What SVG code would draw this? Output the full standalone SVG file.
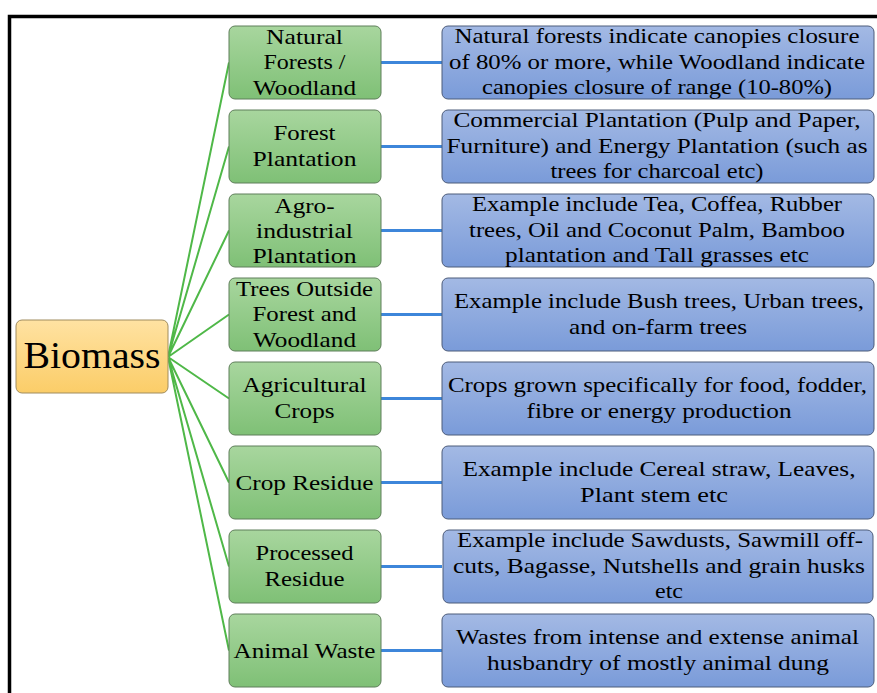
<svg xmlns="http://www.w3.org/2000/svg" width="877" height="693" viewBox="0 0 877 693">
<defs>
<linearGradient id="gG" x1="0" y1="0" x2="0" y2="1"><stop offset="0" stop-color="#a8d69e"/><stop offset="1" stop-color="#7fc076"/></linearGradient>
<linearGradient id="gB" x1="0" y1="0" x2="0" y2="1"><stop offset="0" stop-color="#a3b9e4"/><stop offset="1" stop-color="#7a9bd9"/></linearGradient>
<linearGradient id="gY" x1="0" y1="0" x2="0" y2="1"><stop offset="0" stop-color="#ffe2a2"/><stop offset="1" stop-color="#fbcd68"/></linearGradient>
<style>
.g{fill:url(#gG);stroke:#5f7f5a;stroke-width:1}
.b{fill:url(#gB);stroke:#4d5c7a;stroke-width:1}
.y{fill:url(#gY);stroke:#a08c5e;stroke-width:1}
text{font-size:21px;fill:#000;text-anchor:middle}
.big{font-size:37px}
.gl{stroke:#4fb848;stroke-width:2;fill:none}
.bl{stroke:#3d86da;stroke-width:3;fill:none}
</style>
</defs>
<rect width="877" height="693" fill="#fff"/>
<path d="M9.5 700 V16.5 H880" fill="none" stroke="#000" stroke-width="3.5"/>
<g id="connectors">
<path class="gl" d="M168 357 L229 62.5 M168 357 L229 146.5 M168 357 L229 230.5 M168 357 L229 314.5 M168 357 L229 398.5 M168 357 L229 482.5 M168 357 L229 566.5 M168 357 L229 650.5"/>
<path class="bl" d="M381 62.5 H442 M381 146.5 H442 M381 230.5 H442 M381 314.5 H442 M381 398.5 H442 M381 482.5 H442 M381 566.5 H442 M381 650.5 H442"/>
</g>
<g font-family="Liberation Serif, Times New Roman, serif">
<g id="biomass">
<rect class="y" x="16" y="320" width="152" height="73" rx="6"/>
<text class="big" x="92" y="368" textLength="137" lengthAdjust="spacingAndGlyphs">Biomass</text>
</g>
<g id="n1">
<rect class="g" x="229" y="26" width="152" height="73" rx="6"/>
<text x="304.5" y="43.5" textLength="77" lengthAdjust="spacingAndGlyphs">Natural</text>
<text x="304.5" y="69" textLength="82" lengthAdjust="spacingAndGlyphs">Forests /</text>
<text x="304.5" y="94.5" textLength="103" lengthAdjust="spacingAndGlyphs">Woodland</text>
</g>
<g id="n2">
<rect class="g" x="229" y="110" width="152" height="73" rx="6"/>
<text x="304.5" y="140" textLength="62" lengthAdjust="spacingAndGlyphs">Forest</text>
<text x="304.5" y="166" textLength="104" lengthAdjust="spacingAndGlyphs">Plantation</text>
</g>
<g id="n3">
<rect class="g" x="229" y="194" width="152" height="73" rx="6"/>
<text x="304.5" y="213" textLength="60" lengthAdjust="spacingAndGlyphs">Agro-</text>
<text x="304.5" y="238" textLength="97" lengthAdjust="spacingAndGlyphs">industrial</text>
<text x="304.5" y="263" textLength="104" lengthAdjust="spacingAndGlyphs">Plantation</text>
</g>
<g id="n4">
<rect class="g" x="229" y="278" width="152" height="73" rx="6"/>
<text x="304.5" y="295.5" textLength="137" lengthAdjust="spacingAndGlyphs">Trees Outside</text>
<text x="304.5" y="321" textLength="104" lengthAdjust="spacingAndGlyphs">Forest and</text>
<text x="304.5" y="346.5" textLength="103" lengthAdjust="spacingAndGlyphs">Woodland</text>
</g>
<g id="n5">
<rect class="g" x="229" y="362" width="152" height="73" rx="6"/>
<text x="304.5" y="392" textLength="124" lengthAdjust="spacingAndGlyphs">Agricultural</text>
<text x="304.5" y="418" textLength="60" lengthAdjust="spacingAndGlyphs">Crops</text>
</g>
<g id="n6">
<rect class="g" x="229" y="446" width="152" height="73" rx="6"/>
<text x="304.5" y="490" textLength="138" lengthAdjust="spacingAndGlyphs">Crop Residue</text>
</g>
<g id="n7">
<rect class="g" x="229" y="530" width="152" height="73" rx="6"/>
<text x="304.5" y="560" textLength="98" lengthAdjust="spacingAndGlyphs">Processed</text>
<text x="304.5" y="586" textLength="80" lengthAdjust="spacingAndGlyphs">Residue</text>
</g>
<g id="n8">
<rect class="g" x="229" y="614" width="152" height="73" rx="6"/>
<text x="304.5" y="658" textLength="142" lengthAdjust="spacingAndGlyphs">Animal Waste</text>
</g>
<g id="d1">
<rect class="b" x="442" y="26" width="432" height="73" rx="6"/>
<text x="657" y="43" textLength="405" lengthAdjust="spacingAndGlyphs">Natural forests indicate canopies closure</text>
<text x="657" y="68.5" textLength="416" lengthAdjust="spacingAndGlyphs">of 80% or more, while Woodland indicate</text>
<text x="657" y="94" textLength="350" lengthAdjust="spacingAndGlyphs">canopies closure of range (10-80%)</text>
</g>
<g id="d2">
<rect class="b" x="442" y="110" width="432" height="73" rx="6"/>
<text x="657" y="127" textLength="407" lengthAdjust="spacingAndGlyphs">Commercial Plantation (Pulp and Paper,</text>
<text x="657" y="152.5" textLength="421" lengthAdjust="spacingAndGlyphs">Furniture) and Energy Plantation (such as</text>
<text x="657" y="178" textLength="213" lengthAdjust="spacingAndGlyphs">trees for charcoal etc)</text>
</g>
<g id="d3">
<rect class="b" x="442" y="194" width="432" height="73" rx="6"/>
<text x="657" y="211" textLength="370" lengthAdjust="spacingAndGlyphs">Example include Tea, Coffea, Rubber</text>
<text x="657" y="236.5" textLength="376" lengthAdjust="spacingAndGlyphs">trees, Oil and Coconut Palm, Bamboo</text>
<text x="657" y="262" textLength="304" lengthAdjust="spacingAndGlyphs">plantation and Tall grasses etc</text>
</g>
<g id="d4">
<rect class="b" x="442" y="278" width="432" height="73" rx="6"/>
<text x="659" y="308" textLength="410" lengthAdjust="spacingAndGlyphs">Example include Bush trees, Urban trees,</text>
<text x="658" y="334" textLength="178" lengthAdjust="spacingAndGlyphs">and on-farm trees</text>
</g>
<g id="d5">
<rect class="b" x="442" y="362" width="432" height="73" rx="6"/>
<text x="657.5" y="392" textLength="419" lengthAdjust="spacingAndGlyphs">Crops grown specifically for food, fodder,</text>
<text x="659" y="418" textLength="265" lengthAdjust="spacingAndGlyphs">fibre or energy production</text>
</g>
<g id="d6">
<rect class="b" x="442" y="446" width="432" height="73" rx="6"/>
<text x="659" y="476" textLength="393" lengthAdjust="spacingAndGlyphs">Example include Cereal straw, Leaves,</text>
<text x="654" y="502" textLength="148" lengthAdjust="spacingAndGlyphs">Plant stem etc</text>
</g>
<g id="d7">
<rect class="b" x="443" y="530" width="430" height="73" rx="6"/>
<text x="660" y="547" textLength="406" lengthAdjust="spacingAndGlyphs">Example include Sawdusts, Sawmill off-</text>
<text x="659" y="572.5" textLength="412" lengthAdjust="spacingAndGlyphs">cuts, Bagasse, Nutshells and grain husks</text>
<text x="669" y="598" textLength="28" lengthAdjust="spacingAndGlyphs">etc</text>
</g>
<g id="d8">
<rect class="b" x="442" y="614" width="432" height="73" rx="6"/>
<text x="657.5" y="644" textLength="403" lengthAdjust="spacingAndGlyphs">Wastes from intense and extense animal</text>
<text x="658" y="670" textLength="342" lengthAdjust="spacingAndGlyphs">husbandry of mostly animal dung</text>
</g>
</g>
</svg>
